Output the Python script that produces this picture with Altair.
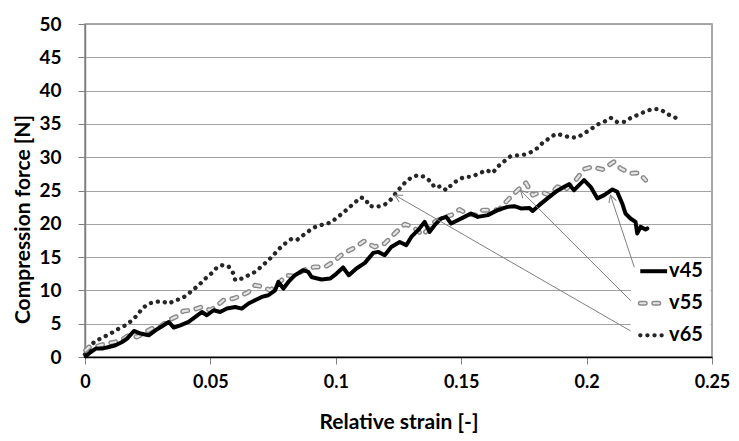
import math
import altair as alt
import pandas as pd

# ---------------- data ----------------
SERIES = ["v45", "v55", "v65"]

v45_strain = [0.0003, 0.0023, 0.0043, 0.0069, 0.0095, 0.0122, 0.0148, 0.0168, 0.0195, 0.0221,
              0.0254, 0.0281, 0.0307, 0.0334, 0.0354, 0.0380, 0.0413, 0.0440, 0.0466, 0.0486,
              0.0513, 0.0539, 0.0566, 0.0599, 0.0625, 0.0652, 0.0678, 0.0705, 0.0731, 0.0758,
              0.0771, 0.0791, 0.0811, 0.0837, 0.0870, 0.0890, 0.0903, 0.0943, 0.0977, 0.1003,
              0.1029, 0.1052, 0.1082, 0.1116, 0.1149, 0.1169, 0.1195, 0.1221, 0.1255, 0.1281,
              0.1301, 0.1328, 0.1354, 0.1374, 0.1394, 0.1420, 0.1440, 0.1460, 0.1486, 0.1513,
              0.1539, 0.1566, 0.1606, 0.1645, 0.1685, 0.1712, 0.1738, 0.1771, 0.1785, 0.1811,
              0.1844, 0.1877, 0.1911, 0.1930, 0.1950, 0.1990, 0.2016, 0.2043, 0.2070, 0.2103,
              0.2122, 0.2142, 0.2155, 0.2175, 0.2195, 0.2202, 0.2215, 0.2235, 0.2242]
v45_force = [0.1, 0.75, 1.26, 1.26, 1.50, 1.76, 2.25, 2.77, 3.91, 3.52,
             3.26, 4.01, 4.61, 5.26, 4.42, 4.76, 5.26, 6.01, 6.76, 6.27,
             7.02, 6.76, 7.27, 7.51, 7.27, 8.03, 8.52, 9.02, 9.27, 10.02,
             11.27, 10.28, 11.27, 12.28, 13.03, 12.77, 12.02, 11.63, 11.78, 12.53,
             13.44, 12.28, 13.29, 14.13, 15.63, 15.78, 15.28, 16.53, 17.28, 16.79,
             18.03, 19.04, 20.29, 18.79, 19.79, 20.80, 21.04, 20.05, 20.54, 21.04,
             21.55, 21.04, 21.30, 22.05, 22.54, 22.65, 22.30, 22.39, 21.94, 22.80,
             23.81, 24.80, 25.55, 25.95, 25.05, 26.56, 25.55, 23.81, 24.30, 25.16,
             24.80, 23.05, 21.55, 20.80, 20.29, 18.55, 19.54, 19.15, 19.30]

v55_strain = [0.0003, 0.0016, 0.0049, 0.0082, 0.0122, 0.0155, 0.0175, 0.0208, 0.0241, 0.0267,
              0.0301, 0.0334, 0.0367, 0.0393, 0.0426, 0.0466, 0.0500, 0.0519, 0.0552, 0.0592,
              0.0625, 0.0652, 0.0678, 0.0711, 0.0738, 0.0771, 0.0803, 0.0831, 0.0877, 0.0917,
              0.0957, 0.0990, 0.1029, 0.1069, 0.1113, 0.1155, 0.1195, 0.1235, 0.1275, 0.1308,
              0.1347, 0.1367, 0.1394, 0.1420, 0.1460, 0.1493, 0.1526, 0.1559, 0.1586, 0.1619,
              0.1652, 0.1685, 0.1725, 0.1758, 0.1785, 0.1818, 0.1851, 0.1884, 0.1917, 0.1957,
              0.1990, 0.2023, 0.2063, 0.2109, 0.2136, 0.2175, 0.2209, 0.2235]
v55_force = [1.0, 1.50, 1.61, 2.01, 2.25, 2.77, 3.27, 3.01, 3.76, 4.27,
             4.61, 5.52, 6.12, 6.91, 7.02, 7.51, 7.02, 7.51, 8.52, 8.78,
             9.27, 9.77, 10.78, 10.52, 10.02, 11.03, 12.28, 12.13, 13.13, 13.53,
             13.53, 14.28, 15.54, 16.29, 17.39, 16.53, 17.04, 18.55, 19.94, 19.54,
             18.30, 19.15, 20.29, 20.80, 21.30, 22.15, 21.45, 21.30, 22.05, 22.05,
             22.15, 23.55, 25.05, 26.15, 24.30, 24.80, 24.30, 25.55, 25.16, 26.56,
             28.21, 28.55, 28.16, 29.31, 28.31, 27.56, 27.65, 26.56]

v65_strain = [0.0000, 0.0036, 0.0062, 0.0102, 0.0135, 0.0162, 0.0188, 0.0208, 0.0228, 0.0254,
              0.0281, 0.0307, 0.0334, 0.0360, 0.0387, 0.0413, 0.0433, 0.0460, 0.0480, 0.0506,
              0.0526, 0.0546, 0.0572, 0.0592, 0.0599, 0.0625, 0.0652, 0.0678, 0.0705, 0.0731,
              0.0751, 0.0771, 0.0798, 0.0822, 0.0844, 0.0870, 0.0897, 0.0923, 0.0950, 0.0981,
              0.1003, 0.1029, 0.1049, 0.1076, 0.1100, 0.1120, 0.1132, 0.1162, 0.1192, 0.1215,
              0.1235, 0.1255, 0.1275, 0.1301, 0.1328, 0.1354, 0.1380, 0.1394, 0.1420, 0.1440,
              0.1460, 0.1486, 0.1513, 0.1539, 0.1573, 0.1599, 0.1626, 0.1645, 0.1669, 0.1695,
              0.1723, 0.1751, 0.1778, 0.1802, 0.1824, 0.1850, 0.1876, 0.1906, 0.1935, 0.1963,
              0.1990, 0.2016, 0.2043, 0.2070, 0.2096, 0.2122, 0.2153, 0.2179, 0.2209, 0.2238,
              0.2266, 0.2295, 0.2321, 0.2348, 0.2374]
v65_force = [0.4, 2.25, 2.77, 3.52, 4.27, 4.76, 5.52, 6.27, 7.27, 8.03,
             8.27, 8.37, 8.03, 8.52, 8.78, 9.53, 10.13, 11.03, 11.78, 12.62,
             13.44, 13.78, 13.63, 12.53, 11.53, 11.78, 12.28, 12.77, 13.63, 14.53,
             15.28, 16.14, 17.04, 17.69, 17.54, 18.29, 19.04, 19.64, 19.90, 20.20,
             20.89, 21.64, 22.30, 23.20, 23.96, 23.66, 22.69, 22.54, 22.80, 23.44,
             24.41, 25.31, 26.15, 26.96, 27.31, 27.05, 26.30, 25.46, 25.65, 25.05,
             25.80, 26.56, 27.05, 27.05, 27.56, 28.06, 27.65, 28.55, 29.31, 30.09,
             30.28, 30.39, 30.76, 31.32, 32.12, 32.82, 33.47, 33.32, 32.94, 32.97,
             33.57, 34.17, 34.90, 35.32, 35.92, 35.27, 35.32, 35.98, 36.43, 36.93,
             37.27, 37.18, 36.47, 36.07, 35.47]

x_ticks = [0, 0.05, 0.1, 0.15, 0.2, 0.25]
y_ticks = [0, 5, 10, 15, 20, 25, 30, 35, 40, 45, 50]

# leader lines (label callouts): tail near legend, head on the curve
arrow_tail_strain = [0.2190, 0.2176, 0.2176]
arrow_tail_force = [13.5, 8.45, 3.9]
arrow_head_strain = [0.2095, 0.1737, 0.1236]
arrow_head_force = [24.3, 25.0, 24.3]

# legend entries
legend_force = [12.88, 8.07, 3.26]
legend_line_start = 0.2214
legend_line_end = 0.2321
legend_text_at = 0.2329
legend_box = dict(x=0.2176, x2=0.2494, y=0.6, y2=14.0)

# ---------------- layout ----------------
W, H = 627, 333
X_DOMAIN = [0, 0.25]
Y_DOMAIN = [0, 50]
FONT = "Lato"
PX_X = W / (X_DOMAIN[1] - X_DOMAIN[0])
PX_Y = H / (Y_DOMAIN[1] - Y_DOMAIN[0])


def frame(name, xs, ys):
    return pd.DataFrame({"strain": xs, "force": ys, "series": name, "i": list(range(len(xs)))})


curves = pd.concat([
    frame("v45", v45_strain, v45_force),
    frame("v55", v55_strain, v55_force),
    frame("v65", v65_strain, v65_force),
], ignore_index=True)

angles = []
for tx, ty, hx, hy in zip(arrow_tail_strain, arrow_tail_force, arrow_head_strain, arrow_head_force):
    dx = (hx - tx) * PX_X
    dy = -(hy - ty) * PX_Y
    angles.append(math.degrees(math.atan2(dx, -dy)) % 360)

arrows = pd.DataFrame({
    "series": SERIES,
    "strain": arrow_tail_strain, "force": arrow_tail_force,
    "strain2": arrow_head_strain, "force2": arrow_head_force,
    "angle": angles,
})

legend = pd.DataFrame({
    "series": SERIES,
    "strain": [legend_line_start] * 3,
    "strain2": [legend_line_end] * 3,
    "force": legend_force,
    "tx": [legend_text_at] * 3,
})

box = pd.DataFrame({"strain": [legend_box["x"]], "strain2": [legend_box["x2"]],
                    "force": [legend_box["y"]], "force2": [legend_box["y2"]]})

xs = alt.Scale(domain=X_DOMAIN, nice=False, zero=False)
ys = alt.Scale(domain=Y_DOMAIN, nice=False, zero=False)

x_axis = alt.Axis(values=x_ticks, format="~g", title="Relative strain [-]", grid=False,
                  labelFont=FONT, labelFontSize=18, labelFontWeight="bold", labelColor="#000",
                  labelPadding=9, labelFlush=False, tickSize=7, tickColor="#808080",
                  domainColor="#000", domainWidth=1.5,
                  titleFont=FONT, titleFontSize=21, titleFontWeight="bold", titleColor="#000",
                  titleY=71, titleBaseline="alphabetic")
y_axis = alt.Axis(values=y_ticks, title="Compression force [N]", grid=True,
                  gridColor="#a3a3a3", gridWidth=1,
                  labelFont=FONT, labelFontSize=19, labelFontWeight="bold", labelColor="#000",
                  labelPadding=17, tickSize=7, tickColor="#808080",
                  domainColor="#808080", domainWidth=1.5,
                  titleFont=FONT, titleFontSize=21, titleFontWeight="bold", titleColor="#000",
                  titleAngle=270, titleX=-56, titleY=195, titleAlign="center",
                  titleBaseline="alphabetic")


def X(f="strain"):
    return alt.X(f"{f}:Q", scale=xs, axis=x_axis, title="Relative strain [-]")


def Y(f="force"):
    return alt.Y(f"{f}:Q", scale=ys, axis=y_axis, title="Compression force [N]")


base = alt.Chart(curves)

bg = alt.Chart(box).mark_rect(fill="white").encode(
    x=X(), x2="strain2:Q", y=Y(), y2="force2:Q")

v45_line = base.transform_filter(alt.datum.series == "v45").mark_line(
    color="#000", strokeWidth=4, strokeJoin="round", strokeCap="round").encode(
    x=X(), y=Y(), order="i:Q")

v55_outer = base.transform_filter(alt.datum.series == "v55").mark_line(
    color="#8a8a8a", strokeWidth=5, strokeDash=[5, 8.5], strokeCap="round",
    strokeJoin="round").encode(x=X(), y=Y(), order="i:Q")
v55_inner = base.transform_filter(alt.datum.series == "v55").mark_line(
    color="#e6e6e6", strokeWidth=2.2, strokeDash=[5, 8.5], strokeCap="round",
    strokeJoin="round").encode(x=X(), y=Y(), order="i:Q")

v65_line = base.transform_filter(alt.datum.series == "v65").mark_line(
    color="#262626", strokeWidth=4.3, strokeDash=[0.1, 7], strokeCap="round",
    strokeJoin="round").encode(x=X(), y=Y(), order="i:Q")

arrow_lines = alt.Chart(arrows).mark_rule(color="#7f7f7f", strokeWidth=1).encode(
    x=X(), y=Y(), x2="strain2:Q", y2="force2:Q")
arrow_heads = alt.Chart(arrows).mark_point(
    shape="M -0.55 1 L 0 0 L 0.55 1", filled=False, stroke="#7f7f7f",
    strokeWidth=1, size=200, opacity=1).encode(
    x=X("strain2"), y=Y("force2"), angle=alt.Angle("angle:Q", scale=None))

leg = alt.Chart(legend)
leg45 = leg.transform_filter(alt.datum.series == "v45").mark_rule(
    color="#000", strokeWidth=4).encode(x=X(), x2="strain2:Q", y=Y())
leg55o = leg.transform_filter(alt.datum.series == "v55").mark_rule(
    color="#8a8a8a", strokeWidth=5, strokeDash=[5, 8.5], strokeCap="round").encode(
    x=X(), x2="strain2:Q", y=Y())
leg55i = leg.transform_filter(alt.datum.series == "v55").mark_rule(
    color="#e6e6e6", strokeWidth=2.2, strokeDash=[5, 8.5], strokeCap="round").encode(
    x=X(), x2="strain2:Q", y=Y())
leg65 = leg.transform_filter(alt.datum.series == "v65").mark_rule(
    color="#262626", strokeWidth=4.3, strokeDash=[0.1, 7], strokeCap="round").encode(
    x=X(), x2="strain2:Q", y=Y())
leg_text = leg.mark_text(align="left", baseline="middle", font=FONT, fontSize=20,
                         fontWeight="bold", color="#000").encode(
    x=X("tx"), y=Y(), text="series:N")

chart = alt.layer(
    bg, v65_line, v55_outer, v55_inner, v45_line, arrow_lines, arrow_heads,
    leg45, leg55o, leg55i, leg65, leg_text
).properties(
    width=W, height=H,
    padding={"left": 77, "top": 16, "right": 19, "bottom": 76},
    autosize=alt.AutoSizeParams(type="none"),
    background="white",
).configure_view(stroke="#8c8c8c", strokeWidth=1.5)

chart.save("out.html", embed_options={"renderer": "svg", "actions": False})
